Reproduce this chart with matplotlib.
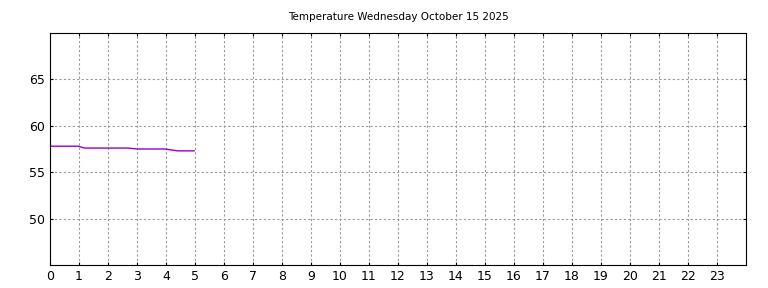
import matplotlib
matplotlib.use('Agg')
import matplotlib.pyplot as plt

# hours since midnight and temperature readings (F)
hours = [0.0, 0.5, 0.97, 1.2, 1.6, 2.0, 2.4, 2.7, 3.0, 3.5, 3.97, 4.4, 4.7, 4.97]
temps = [57.8, 57.8, 57.8, 57.6, 57.6, 57.6, 57.6, 57.6, 57.5, 57.5, 57.5, 57.3, 57.3, 57.3]

title = 'Temperature Wednesday October 15 2025'

fig = plt.figure(figsize=(7.68, 2.88), dpi=100)
ax = fig.add_axes([50 / 768, 23 / 288, 696 / 768, 232 / 288])
ax.plot(hours, temps, color='#9400d3', linewidth=1)

ax.set_xlim(0, 24)
ax.set_ylim(45, 70)
ax.set_xticks(range(24))
ax.set_yticks([50, 55, 60, 65])
ax.grid(True, color='#999999', linestyle=(0, (2, 2)), linewidth=0.8)
ax.tick_params(direction='in', top=True, right=True, labelsize=9, length=2.5)
ax.set_title(title, fontsize=7.5, pad=9)

fig.savefig('out.png', dpi=100)
